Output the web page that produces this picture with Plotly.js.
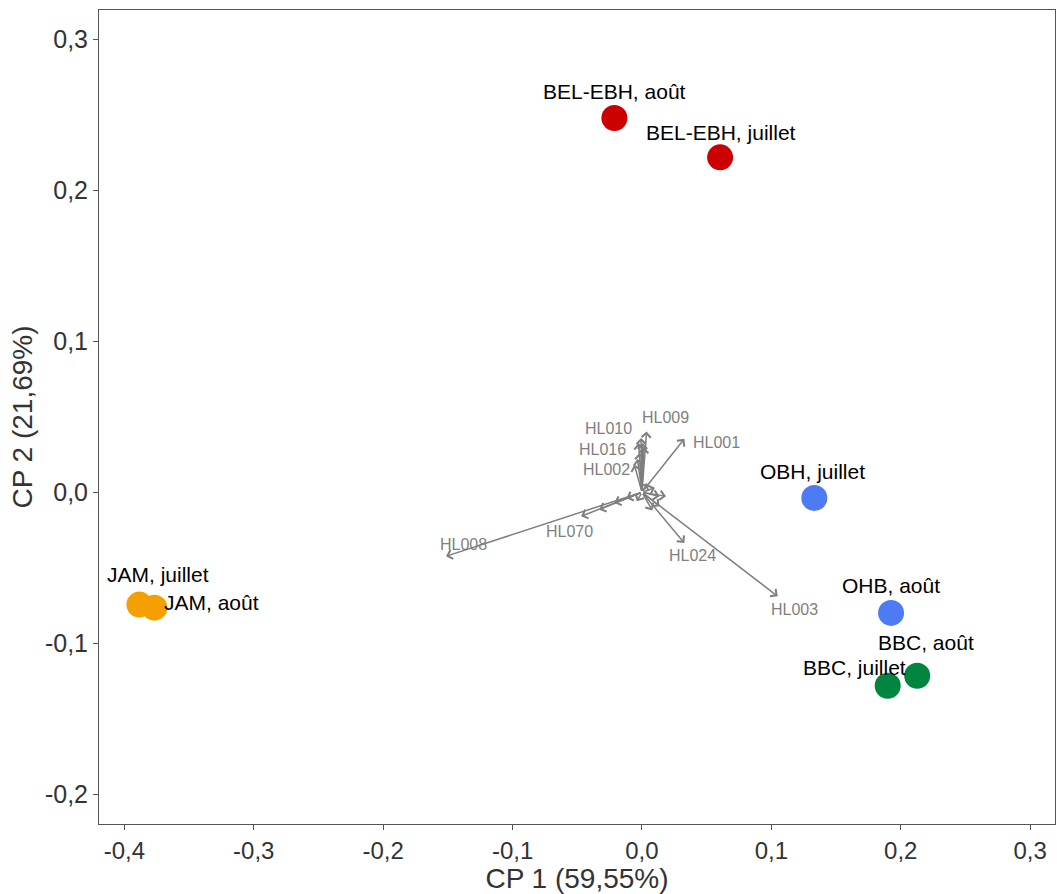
<!DOCTYPE html>
<html>
<head>
<meta charset="utf-8">
<script src="https://cdn.plot.ly/plotly-3.0.1.min.js"></script>
<style>html,body{margin:0;padding:0;background:#fff;}</style>
</head>
<body>
<div id="chart" style="width:1057px;height:894px;"></div>
<script>
// Individuals (site, month) coordinates on CP1 / CP2
const siteLabels = ["BEL-EBH, août", "BEL-EBH, juillet", "OBH, juillet", "OHB, août", "BBC, août", "BBC, juillet", "JAM, juillet", "JAM, août"];
const siteGroups = ["BEL-EBH", "BEL-EBH", "OBH", "OBH", "BBC", "BBC", "JAM", "JAM"];
const siteCP1 = [-0.0213, 0.0604, 0.1332, 0.1925, 0.2127, 0.1899, -0.3884, -0.3768];
const siteCP2 = [0.2479, 0.2218, -0.0038, -0.0799, -0.1215, -0.1281, -0.0744, -0.0764];

// Variable loadings (arrows); unlabelled ones have an empty label
const varLabels = ["HL009", "HL010", "HL016", "HL002", "HL001", "HL070", "HL008", "HL024", "HL003",
                   "", "", "", "", "", "", "", "", "", "", "", "", "", ""];
const varCP1 = [0.0036, -0.0007, -0.0026, -0.0059, 0.0328, -0.0470, -0.1514, 0.0327, 0.1049,
                0.0005, -0.0020, 0.0015, -0.0035, -0.0330, -0.0213, -0.0120, 0.0186, 0.0136, 0.0136, 0.0080, 0.0040, -0.0040, 0.0100];
const varCP2 = [0.0403, 0.0360, 0.0326, 0.0182, 0.0354, -0.0159, -0.0424, -0.0336, -0.0689,
                0.0327, 0.0260, 0.0300, 0.0220, -0.0115, -0.0071, -0.0040, -0.0027, -0.0027, -0.0093, -0.0120, 0.0060, -0.0060, 0.0030];

// Axis ticks
const xTickVals = [-0.4, -0.3, -0.2, -0.1, 0.0, 0.1, 0.2, 0.3];
const xTickText = ["-0,4", "-0,3", "-0,2", "-0,1", "0,0", "0,1", "0,2", "0,3"];
const yTickVals = [-0.2, -0.1, 0.0, 0.1, 0.2, 0.3];
const yTickText = ["-0,2", "-0,1", "0,0", "0,1", "0,2", "0,3"];

// Styling (not data)
const groupColors = {"BEL-EBH": "#CC0000", "OBH": "#4D7BF3", "BBC": "#00853E", "JAM": "#F5A000"};
const siteLabelShift = [[0, 26], [1, 25], [-2, 27], [0, 27], [9, 33], [-33, 18], [19, 30], [57, 5]];
const varLabelShift = [[19, 14], [-33, 9], [-36, -6], [-28, -5], [32, -4], [-12, -15], [17, 12], [8, -12], [17, -13]];

const font = "Liberation Sans, Arial, Helvetica, sans-serif";
const arrowColor = "#7F7F7F";

const traces = [{
  type: "scatter",
  mode: "markers",
  x: siteCP1,
  y: siteCP2,
  text: siteLabels,
  marker: {size: 26, color: siteGroups.map(g => groupColors[g]), line: {width: 0}},
  hoverinfo: "text",
  showlegend: false
}];

const annotations = [];
// arrows
for (let i = 0; i < varCP1.length; i++) {
  annotations.push({
    x: varCP1[i], y: varCP2[i], xref: "x", yref: "y",
    ax: 0, ay: 0, axref: "x", ayref: "y",
    text: "", showarrow: true,
    arrowhead: 4, arrowsize: 1.2, arrowwidth: 1.5, arrowcolor: arrowColor,
    standoff: 0, startstandoff: 0
  });
}
// variable labels
for (let i = 0; i < varLabels.length; i++) {
  if (!varLabels[i]) continue;
  annotations.push({
    x: varCP1[i], y: varCP2[i], xref: "x", yref: "y",
    text: varLabels[i], showarrow: false,
    xshift: varLabelShift[i][0], yshift: varLabelShift[i][1],
    font: {family: font, size: 16, color: arrowColor}
  });
}
// site labels
for (let i = 0; i < siteLabels.length; i++) {
  annotations.push({
    x: siteCP1[i], y: siteCP2[i], xref: "x", yref: "y",
    text: siteLabels[i], showarrow: false,
    xshift: siteLabelShift[i][0], yshift: siteLabelShift[i][1],
    font: {family: font, size: 21, color: "#000000"}
  });
}

const layout = {
  width: 1057, height: 894,
  margin: {l: 99, r: 2, t: 10, b: 70, pad: 0},
  paper_bgcolor: "#ffffff", plot_bgcolor: "#ffffff",
  font: {family: font, color: "#333333"},
  showlegend: false,
  xaxis: {
    range: [-0.4196, 0.3192], autorange: false,
    tickvals: xTickVals, ticktext: xTickText,
    ticks: "outside", ticklen: 5, tickwidth: 1, tickcolor: "#555555",
    tickfont: {family: font, size: 24, color: "#333333"},
    showgrid: false, zeroline: false,
    showline: true, mirror: true, linecolor: "#555555", linewidth: 1,
    title: {text: "CP 1 (59,55%)", font: {family: font, size: 28, color: "#333333"}, standoff: 5},
    automargin: false
  },
  yaxis: {
    range: [-0.2197, 0.3194], autorange: false,
    tickvals: yTickVals, ticktext: yTickText,
    ticks: "outside", ticklen: 5, tickwidth: 1, tickcolor: "#555555",
    tickfont: {family: font, size: 25, color: "#333333"},
    showgrid: false, zeroline: false,
    showline: true, mirror: true, linecolor: "#555555", linewidth: 1,
    title: {text: "CP 2 (21,69%)", font: {family: font, size: 28, color: "#333333"}, standoff: 4},
    automargin: false
  },
  annotations: annotations
};

Plotly.newPlot("chart", traces, layout, {displayModeBar: false, staticPlot: true});
</script>
</body>
</html>
